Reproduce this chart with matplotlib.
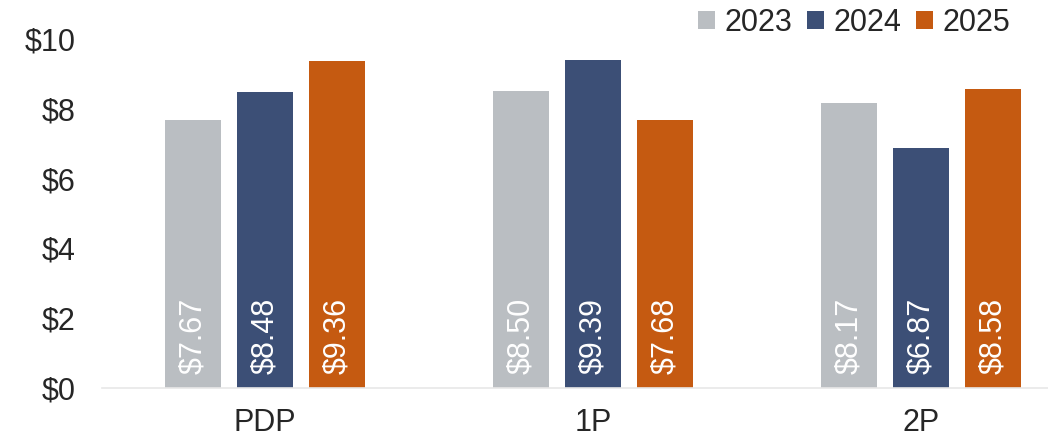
import numpy as np
import matplotlib
matplotlib.use('Agg')
import matplotlib.pyplot as plt

plt.rcParams['font.family'] = ['Liberation Sans', 'DejaVu Sans']

categories = ['PDP', '1P', '2P']
years = ['2023', '2024', '2025']
values_2023 = [7.67, 8.50, 8.17]
values_2024 = [8.48, 9.39, 6.87]
values_2025 = [9.36, 7.68, 8.58]
colors = ['#BABEC2', '#3C4F76', '#C55A11']

series = [values_2023, values_2024, values_2025]
x = np.arange(len(categories))
width = 0.171
step = 0.2195

fig = plt.figure(figsize=(10.48, 4.44), dpi=100)
ax = fig.add_axes([0.0973, 0.126, 0.9027, 0.786])

for i, (vals, col, yr) in enumerate(zip(series, colors, years)):
    pos = x + (i - 1) * step
    bars = ax.bar(pos, vals, width=width, color=col, label=yr)
    for b, v in zip(bars, vals):
        ax.annotate(f'${v:.2f}', (b.get_x() + b.get_width() / 2, 0),
                    xytext=(0, 10), textcoords='offset points',
                    rotation=90, ha='center', va='bottom',
                    color='white', fontsize=22)

ax.set_xlim(-0.497, 2.387)
ax.set_ylim(0, 10)
ax.set_yticks([0, 2, 4, 6, 8, 10])
ax.set_yticklabels([f'${t}' for t in [0, 2, 4, 6, 8, 10]])
ax.set_xticks(x)
ax.set_xticklabels(categories)
ax.tick_params(axis='both', length=0, labelsize=22, colors='#262626')
ax.tick_params(axis='y', pad=19)
ax.tick_params(axis='x', pad=14)
for s in ['top', 'right', 'left']:
    ax.spines[s].set_visible(False)
ax.spines['bottom'].set_color('#E8E8E8')
ax.spines['bottom'].set_linewidth(1.2)

fig.legend(loc='upper right', bbox_to_anchor=(0.99, 1.045), ncol=3, frameon=False,
           fontsize=22, handlelength=0.55, handleheight=0.55, handletextpad=0.3,
           columnspacing=0.5, labelcolor='#262626')

fig.savefig('out.png', dpi=100)
